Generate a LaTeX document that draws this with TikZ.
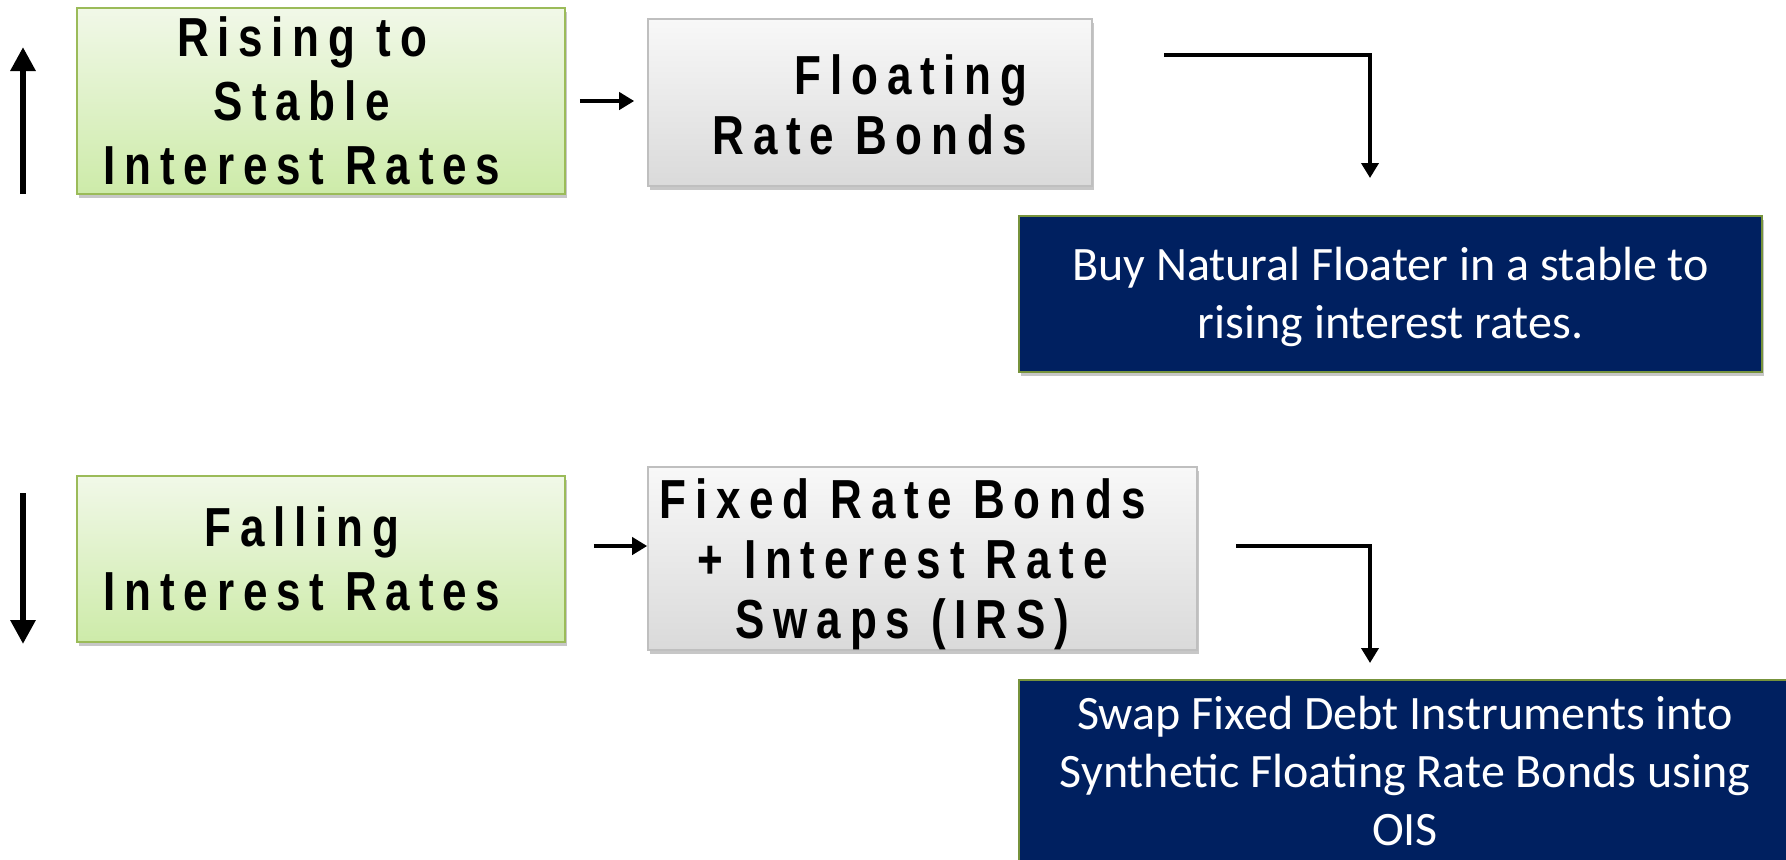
\documentclass[tikz,border=0pt]{standalone}
\usepackage{fontspec}
\setmainfont{Liberation Sans}
\newfontfamily\boxfont{Liberation Sans}[FakeStretch=0.8,LetterSpace=16]
\newfontfamily\navyfont{Carlito}
\usetikzlibrary{arrows.meta,shadows}
\definecolor{navyfill}{HTML}{002060}
\definecolor{navyborder}{HTML}{77933C}
\definecolor{greenborder}{HTML}{9BBB59}
\definecolor{greentop}{HTML}{F1F8E8}
\definecolor{greenbot}{HTML}{CDEBA9}
\definecolor{greytop}{HTML}{F8F8F8}
\definecolor{greybot}{HTML}{DADADA}
\definecolor{greyborder}{HTML}{BFBFBF}
\tikzset{
  base/.style={inner sep=0pt,
    drop shadow={shadow xshift=1pt, shadow yshift=-2pt, opacity=0.22, fill=black}},
  greenbox/.style={base, draw=greenborder, line width=0.8pt,
    top color=greentop, bottom color=greenbot},
  greybox/.style={base, draw=greyborder, line width=0.8pt,
    top color=greytop, bottom color=greybot},
  navybox/.style={base, draw=navyborder, line width=0.8pt, fill=navyfill},
  boxtext/.style={inner sep=0pt, align=center, text=black,
    font=\boxfont\bfseries\fontsize{27.5}{32}\selectfont},
  greytext/.style={boxtext, font=\boxfont\bfseries\fontsize{27.5}{30}\selectfont},
  navytext/.style={inner sep=0pt, align=center, text=white,
    font=\navyfont\fontsize{24}{29}\selectfont},
  bigarrow/.style={line width=3.3pt, -{Triangle[length=12pt,width=12pt]}},
  smallarrow/.style={line width=2.3pt, -{Triangle[length=7.5pt,width=8.5pt]}},
}
\begin{document}
\begin{tikzpicture}[x=0.5pt,y=-0.5pt]
\useasboundingbox (0,0) rectangle (1786,859);
% boxes
\node[greenbox, minimum width=244pt, minimum height=93pt] (g1) at (321,101) {};
\node[greybox, minimum width=222pt, minimum height=83.5pt] (f1) at (870,102.5) {};
\node[navybox, minimum width=371.5pt, minimum height=78pt] (n1) at (1390.5,294) {};
\node[greenbox, minimum width=244pt, minimum height=83pt] (g2) at (321,559) {};
\node[greybox, minimum width=274.5pt, minimum height=91.5pt] (f2) at (922.5,558.5) {};
\node[navybox, minimum width=386pt, minimum height=91pt] (n2) at (1405,771) {};
% texts
\node[boxtext] (g1t) at ([xshift=-9.5pt]g1.center) {Rising to\\Stable\\Interest Rates};
\node[greytext, align=right] (f1t) at ([yshift=-1pt]f1.center) {Floating\\Rate Bonds};
\node[navytext] (n1t) at ([yshift=-1.7pt]n1.center) {Buy Natural Floater in a stable to\\rising interest rates.};
\node[boxtext] (g2t) at ([xshift=-9.5pt]g2.center) {Falling\\Interest Rates};
\node[greytext] (f2t) at ([xshift=-10pt,yshift=-3pt]f2.center) {Fixed Rate Bonds\\+ Interest Rate\\Swaps (IRS)};
\node[navytext] (n2t) at (n2.center) {Swap Fixed Debt Instruments into\\Synthetic Floating Rate Bonds using\\OIS};
% vertical trend arrows
\coordinate (upbot) at (23,194);
\coordinate (uptop) at (23,47);
\draw[bigarrow] (upbot) -- (uptop);
\coordinate (dntop) at (23,493);
\coordinate (dnbot) at (23,644);
\draw[bigarrow] (dntop) -- (dnbot);
% horizontal arrows
\draw[smallarrow] ([xshift=7pt]g1.east) -- ([xshift=-6.5pt]f1.west |- g1.east);
\draw[smallarrow] ([xshift=14pt,yshift=6.5pt]g2.east) -- ([yshift=6.5pt]f2.west |- g2.east);
% elbow connectors
\coordinate (c1s) at (1164,55);
\coordinate (c1e) at (1370,178);
\draw[smallarrow] (c1s) -| (c1e);
\coordinate (c2s) at (1236,546);
\coordinate (c2e) at (1370,663);
\draw[smallarrow] (c2s) -| (c2e);
\end{tikzpicture}
\end{document}
